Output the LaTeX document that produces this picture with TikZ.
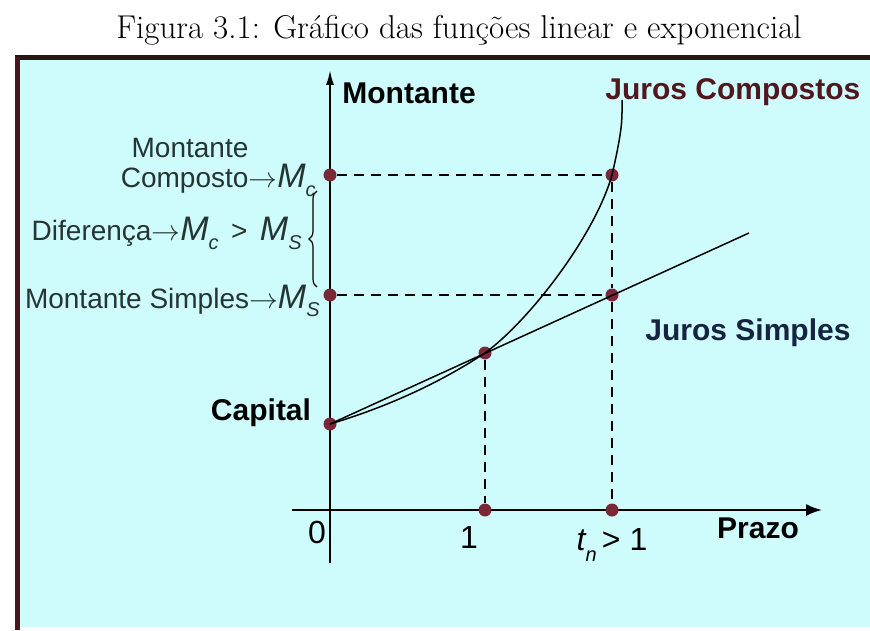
\documentclass[tikz,border=0pt]{standalone}
\usepackage{fontspec}
\setsansfont{Liberation Sans}
\usetikzlibrary{arrows.meta, positioning, decorations.pathreplacing}
\definecolor{panelFill}{RGB}{206,252,252}
\definecolor{frameLeft}{RGB}{72,22,28}
\definecolor{frameTop}{RGB}{40,22,22}
\definecolor{dotColor}{RGB}{122,40,56}
\definecolor{labelColor}{RGB}{38,52,52}
\definecolor{compostoColor}{RGB}{82,22,30}
\definecolor{simplesColor}{RGB}{22,36,66}
\newcommand{\Mlab}[1]{{\fontsize{17}{17}\selectfont\itshape M}\raisebox{-0.6ex}{\fontsize{10}{10}\selectfont\itshape #1}}

\begin{document}
\begin{tikzpicture}[
    x=0.5pt, y=-0.5pt,
    dot/.style={circle, fill=dotColor, inner sep=0pt, minimum size=6.5pt},
    guide/.style={dash pattern=on 5pt off 3.5pt, line width=0.75pt},
    curve/.style={line width=0.75pt},
    axis/.style={line width=1pt},
    boldlabel/.style={font=\sffamily\bfseries\fontsize{15}{17}\selectfont, inner sep=0pt},
    sidelabel/.style={font=\sffamily\fontsize{14}{16}\selectfont, text=labelColor, inner sep=0pt},
    ticklabel/.style={font=\sffamily\fontsize{16}{18}\selectfont, inner sep=0pt}
]
    \useasboundingbox (0,0) rectangle (870,630);

    % Caption
    \node (caption) at (459,30) {\fontsize{16.5}{19}\selectfont Figura 3.1: Gráfico das funções linear e exponencial};

    % Panel
    \fill[panelFill] (17,58) rectangle (870,627);
    \draw[frameTop, line width=2.5pt] (15,58) -- (870,58);
    \draw[frameLeft, line width=2.5pt] (17,57) -- (17,630);

    % Axes
    \coordinate (ytop) at (330,70);
    \coordinate (ybot) at (330,563);
    \coordinate (xleft) at (292,510);
    \coordinate (xright) at (822,510);
    \draw[axis, -{Latex[length=7.5pt, width=4pt]}] (ybot) -- (ytop);
    \draw[axis, -{Latex[length=8pt, width=6pt]}] (xleft) -- (xright);

    % Points
    \node[dot] (mc) at (330,175) {};
    \node[dot] (ms) at (330,295) {};
    \node[dot] (cap) at (330,424) {};
    \node[dot] (cross) at (485,353) {};
    \node[dot] (pc) at (612,175) {};
    \node[dot] (ps) at (612,295) {};
    \node[dot] (t1) at (485,510) {};
    \node[dot] (tn) at (612,510) {};
    \coordinate (sEnd) at (749,233);
    \coordinate (cTop) at (622,100);

    % Guides
    \draw[guide] (mc) -- (pc);
    \draw[guide] (ms) -- (ps);
    \draw[guide] (cross) -- (t1);
    \draw[guide] (pc) -- (ps);
    \draw[guide] (ps) -- (tn);

    % Curves
    \draw[curve] (cap.center) -- (sEnd);
    \draw[curve] (cap.center) .. controls (400,403) and (450,376) .. (cross.center)
        .. controls (530,320) and (595,235) .. (pc.center)
        .. controls (620,140) and (622,125) .. (622,112) -- (cTop);

    % Axis labels
    \node[boldlabel, anchor=west] (montante) at (342,93) {Montante};
    \node[boldlabel, text=compostoColor, anchor=west] (jc) at (605,92) {Juros Compostos};
    \node[boldlabel, text=simplesColor] (js) at (748,333) {Juros Simples};
    \node[boldlabel] (capital) at (261,413) {Capital};
    \node[boldlabel] (prazo) at (758,528) {Prazo};
    \node[ticklabel] (zero) at (317,532) {0};
    \node[ticklabel] (one) at (469,537) {1};
    \node[ticklabel] (tlabel) at (612,545) {{\itshape t}\raisebox{-0.6ex}{\fontsize{10}{10}\selectfont\itshape n}\,> 1};

    % Left labels
    \node[sidelabel, anchor=base] (mLbl) at (190,158) {Montante};
    \node[sidelabel, anchor=base east] (compLbl) at (316,188) {Composto$\rightarrow$\Mlab{c}};
    \node[sidelabel, anchor=base east] (difLbl) at (302,241) {Diferença$\rightarrow$\Mlab{c} \,>\, \Mlab{S}};
    \node[sidelabel, anchor=base east] (simLbl) at (320,308) {Montante Simples$\rightarrow$\Mlab{S}};
    \coordinate (bLow) at (317,287);
    \coordinate (bHigh) at (317,191);
    \draw[decorate, decoration={brace, amplitude=4pt}, line width=0.6pt] (bLow) -- (bHigh);
\end{tikzpicture}
\end{document}
